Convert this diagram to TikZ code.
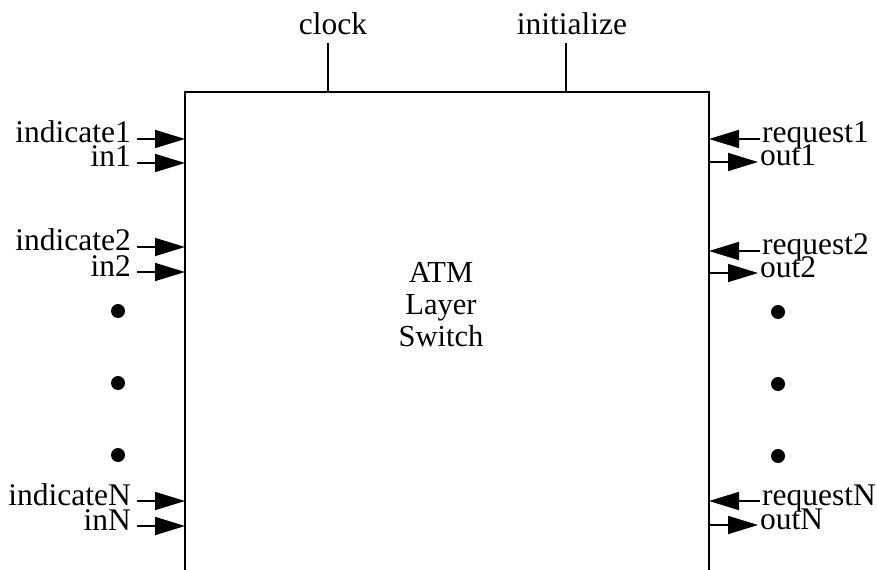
\documentclass[tikz,border=0pt]{standalone}
\usepackage{fontspec}
\setmainfont{Liberation Serif}
\usetikzlibrary{arrows.meta}
\begin{document}
\begin{tikzpicture}[x=1bp,y=-1bp,
  lbl/.style={font=\fontsize{31.5bp}{33bp}\selectfont, inner sep=0pt},
  ttl/.style={font=\fontsize{30.5bp}{32bp}\selectfont, inner sep=0pt, align=center},
  arr/.style={line width=1.8bp, -{Triangle[length=30bp,width=18bp]}},
  edgeline/.style={line width=2bp},
  dotnode/.style={circle, fill=black, minimum size=14bp, inner sep=0pt}]
\useasboundingbox (0,0) rectangle (877,570);
% box (open at the bottom)
\coordinate (bl) at (185,570);
\coordinate (tl) at (185,92);
\coordinate (tr) at (709,92);
\coordinate (br) at (709,570);
\draw[edgeline] (bl) -- (tl) -- (tr) -- (br);
\node[ttl] (title) at (441,305) {ATM\\Layer\\Switch};
% top inputs
\node[lbl, anchor=base] (clk) at (333,35) {clock};
\node[lbl, anchor=base] (ini) at (572,35) {initialize};
\coordinate (ck) at (328,43);
\coordinate (ik) at (566,43);
\draw[edgeline] (ck) -- (ck |- tl);
\draw[edgeline] (ik) -- (ik |- tl);
% left side
\foreach \n/\t/\y in {a/indicate1/139, b/in1/163, c/indicate2/247, d/in2/272, e/indicateN/501, f/inN/526}{
  \coordinate (L\n) at (137,\y);
  \node[lbl, anchor=base east] (tL\n) at (131,\y+4) {\t};
  \draw[arr] (L\n) -- (L\n -| tl);
}
% right side: requests (into box)
\foreach \n/\t/\y in {a/request1/139, c/request2/251, e/requestN/501}{
  \coordinate (R\n) at (760,\y);
  \node[lbl, anchor=base west] (tR\n) at (762,\y+4) {\t};
  \draw[arr] (R\n) -- (R\n -| tr);
}
% right side: outputs (out of box)
\foreach \n/\t/\y in {b/out1/162, d/out2/273, f/outN/525}{
  \coordinate (R\n) at (758,\y);
  \node[lbl, anchor=base west] (tR\n) at (760,\y+4) {\t};
  \draw[arr] (R\n -| tr) -- (R\n);
}
% dots
\foreach \i/\y in {1/311, 2/383, 3/455}{
  \node[dotnode] (dl\i) at (118,\y) {};
  \node[dotnode] (dr\i) at (778,\y+1) {};
}
\end{tikzpicture}
\end{document}
